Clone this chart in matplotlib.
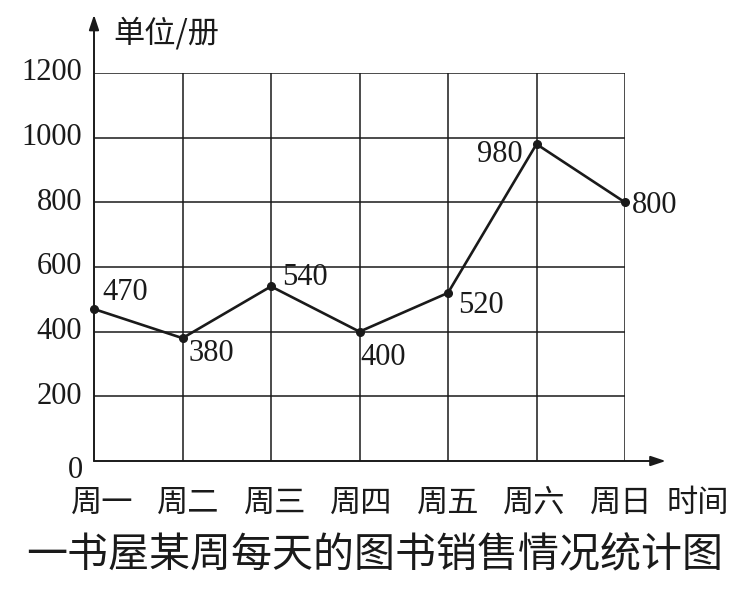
import numpy as np
import matplotlib
matplotlib.use("Agg")
import matplotlib.pyplot as plt

# data
days = ['周一', '周二', '周三', '周四', '周五', '周六', '周日']
sales = [470, 380, 540, 400, 520, 980, 800]
yticks = [0, 200, 400, 600, 800, 1000, 1200]
title = '一书屋某周每天的图书销售情况统计图'

# label offsets in pixels (from point), and alignment
lab_off = [(8, 17), (6, -15), (11, 9), (1, -26), (10, -13), (-14, -10), (7, -3)]
lab_ha = ['left', 'left', 'left', 'left', 'left', 'right', 'left']

num_font = 'Liberation Serif'
cjk_font = ['Noto Sans CJK SC', 'DejaVu Sans']
ink = '#1a1a1a'

fig = plt.figure(figsize=(7.55, 5.9), dpi=100)
fig.patch.set_facecolor('white')
ax = fig.add_axes([94/755, (590-461)/590, (625-94)/755, (461-73)/590])
ax.set_xlim(0, 6)
ax.set_ylim(0, 1200)
for s in ax.spines.values():
    s.set_visible(False)
ax.set_xticks([])
ax.set_yticks([])

# grid
for i in range(1, 7):
    ax.plot([i, i], [0, 1200], color=ink, lw=1.1, zorder=1)
for v in yticks[1:]:
    ax.plot([0, 6], [v, v], color=ink, lw=1.1, zorder=1)

# axes with arrows
ax.annotate('', xy=(6.46, 0), xytext=(0, 0), annotation_clip=False,
            arrowprops=dict(arrowstyle='-|>,head_length=0.9,head_width=0.3',
                            color=ink, lw=1.4, shrinkA=0, shrinkB=0))
ax.annotate('', xy=(0, 1380), xytext=(0, 0), annotation_clip=False,
            arrowprops=dict(arrowstyle='-|>,head_length=0.9,head_width=0.3',
                            color=ink, lw=1.4, shrinkA=0, shrinkB=0))

# line
x = np.arange(len(days))
ax.plot(x, sales, color=ink, lw=1.9, marker='o', markersize=5.5, zorder=3,
        clip_on=False)
for i, v in enumerate(sales):
    ax.annotate(str(v), xy=(i, v), xytext=lab_off[i], textcoords='offset pixels',
                ha=lab_ha[i], va='center', fontsize=22, family=num_font,
                color=ink, annotation_clip=False)

# y tick labels
for v in yticks:
    if v == 0:
        ax.annotate('0', xy=(0, 0), xytext=(-19, -9), textcoords='offset pixels',
                    ha='center', va='center', fontsize=22, family=num_font,
                    color=ink, annotation_clip=False)
    else:
        ax.annotate(str(v), xy=(0, v), xytext=(-12, 0), textcoords='offset pixels',
                    ha='right', va='center', fontsize=22, family=num_font,
                    color=ink, annotation_clip=False)

# x tick labels
for i, d in enumerate(days):
    ax.annotate(d, xy=(i, 0), xytext=(8 - 2*i, -42), textcoords='offset pixels',
                ha='center', va='center', fontsize=22.5, family=cjk_font,
                color=ink, annotation_clip=False)
ax.annotate('时间', xy=(6, 0), xytext=(73, -42), textcoords='offset pixels',
            ha='center', va='center', fontsize=22.5, family=cjk_font,
            color=ink, annotation_clip=False)
ax.annotate('单位/册', xy=(0, 1200), xytext=(19, 40), textcoords='offset pixels',
            ha='left', va='center', fontsize=22.5, family=cjk_font,
            color=ink, annotation_clip=False)

fig.text(375/755, 1 - 556/590, title, ha='center', va='center', fontsize=29.5,
         family=cjk_font, color=ink)

fig.savefig('out.png', dpi=100)
